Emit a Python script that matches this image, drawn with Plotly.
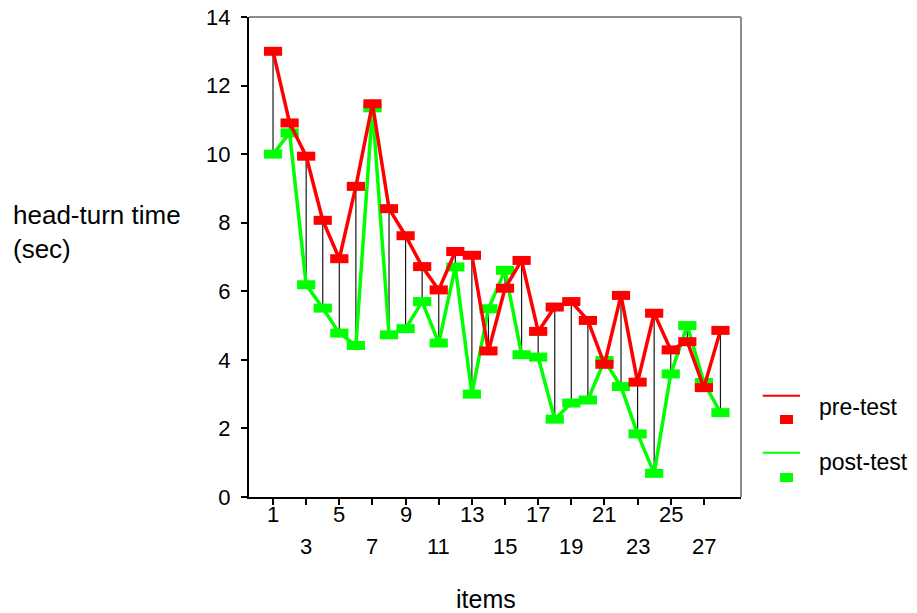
import plotly.graph_objects as go

items = list(range(1, 29))
pre_test = [13.0, 10.91, 9.94, 8.07, 6.95, 9.06, 11.47, 8.41, 7.62, 6.72,
            6.04, 7.16, 7.05, 4.26, 6.09, 6.90, 4.83, 5.54, 5.70, 5.15,
            3.87, 5.88, 3.35, 5.36, 4.29, 4.53, 3.19, 4.86]
post_test = [10.0, 10.62, 6.19, 5.51, 4.78, 4.42, 11.35, 4.73, 4.91, 5.70,
             4.49, 6.71, 3.0, 5.49, 6.61, 4.15, 4.08, 2.27, 2.74, 2.83,
             3.98, 3.22, 1.84, 0.69, 3.59, 5.0, 3.34, 2.46]
x_tick_vals = list(range(1, 29, 2))
x_labels_row1 = [1, 5, 9, 13, 17, 21, 25]
x_labels_row2 = [3, 7, 11, 15, 19, 23, 27]
y_tick_vals = [0, 2, 4, 6, 8, 10, 12, 14]
series_names = ["pre-test", "post-test"]

FONT = "Liberation Sans, Arial, sans-serif"
RED = "#ff0000"
GREEN = "#00ff00"
TICK_SIZE = 22

# drop lines between pre and post
dx, dy = [], []
for i, a, b in zip(items, pre_test, post_test):
    dx += [i, i, None]
    dy += [a, b, None]

fig = go.Figure()
fig.add_trace(go.Scatter(x=dx, y=dy, mode="lines", line=dict(color="#1a1a1a", width=1.2),
                         showlegend=False, hoverinfo="skip"))
fig.add_trace(go.Scatter(x=items, y=post_test, mode="lines+markers", name=series_names[1],
                         showlegend=False,
                         line=dict(color=GREEN, width=3.5),
                         marker=dict(symbol="line-ew", size=13, color=GREEN,
                                     line=dict(color=GREEN, width=9))))
fig.add_trace(go.Scatter(x=items, y=pre_test, mode="lines+markers", name=series_names[0],
                         showlegend=False,
                         line=dict(color=RED, width=3.5),
                         marker=dict(symbol="line-ew", size=13, color=RED,
                                     line=dict(color=RED, width=9))))

annotations = []
for v in x_labels_row1:
    annotations.append(dict(x=v, y=-0.037, xref="x", yref="paper", text=str(v),
                            showarrow=False, yanchor="middle", xanchor="center",
                            font=dict(size=TICK_SIZE, color="#000", family=FONT)))
for v in x_labels_row2:
    annotations.append(dict(x=v, y=-0.104, xref="x", yref="paper", text=str(v),
                            showarrow=False, yanchor="middle", xanchor="center",
                            font=dict(size=TICK_SIZE, color="#000", family=FONT)))
annotations.append(dict(x=-0.4837, y=0.552, xref="paper", yref="paper",
                        text="head-turn time<br>(sec)", align="left", showarrow=False,
                        xanchor="left", yanchor="middle",
                        font=dict(size=26, color="#000", family=FONT)))
annotations.append(dict(x=0.4817, y=-0.212, xref="paper", yref="paper", text="items",
                        showarrow=False, xanchor="center", yanchor="middle",
                        font=dict(size=25, color="#000", family=FONT)))

# manual legend (line above, marker below, SPSS style)
legend_spec = [(series_names[0], RED, 0.211, 0.1615, 0.1881),
               (series_names[1], GREEN, 0.0923, 0.0406, 0.0735)]
shapes = [
    dict(type="line", xref="paper", yref="paper", x0=0, x1=1, y0=1, y1=1,
         line=dict(color="#8c8c8c", width=2)),
    dict(type="line", xref="paper", yref="paper", x0=1, x1=1, y0=0, y1=1,
         line=dict(color="#8c8c8c", width=2)),
]
for name, col, ly, my, ty in legend_spec:
    shapes.append(dict(type="line", xref="paper", yref="paper", x0=1.0441, x1=1.1199,
                       y0=ly, y1=ly, line=dict(color=col, width=2)))
    shapes.append(dict(type="rect", xref="paper", yref="paper", x0=1.0793, x1=1.1057,
                       y0=my - 0.0094, y1=my + 0.0094, fillcolor=col, line=dict(width=0)))
    annotations.append(dict(x=1.1545, y=ty, xref="paper", yref="paper", text=name,
                            showarrow=False, xanchor="left", yanchor="middle",
                            font=dict(size=23, color="#000", family=FONT)))

fig.update_layout(
    width=917, height=613,
    margin=dict(l=249, r=176, t=17, b=116, autoexpand=False),
    paper_bgcolor="white", plot_bgcolor="white",
    font=dict(family=FONT, size=TICK_SIZE, color="#000"),
    showlegend=False,
    annotations=annotations,
    shapes=shapes,
)
fig.update_xaxes(range=[-0.45, 29.24], tickvals=x_tick_vals, ticktext=["" for _ in x_tick_vals],
                 ticks="outside", ticklen=6, tickcolor="#000", tickwidth=2,
                 showline=True, linecolor="#000", linewidth=2, showgrid=False, zeroline=False)
fig.update_yaxes(range=[0, 14], tickvals=y_tick_vals, ticks="outside", ticklen=6,
                 tickcolor="#000", tickwidth=2, showline=True, linecolor="#000", linewidth=2,
                 showgrid=False, zeroline=False, tickfont=dict(size=TICK_SIZE),
                 ticklabelstandoff=6)

fig.write_html("out.html", config={"displayModeBar": False},
               post_script="document.body.style.margin='0px';")
